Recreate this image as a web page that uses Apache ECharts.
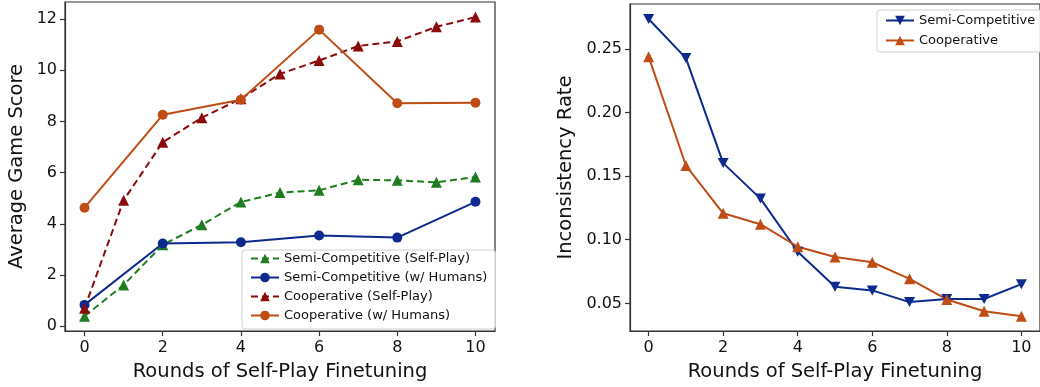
<!DOCTYPE html>
<html>
<head>
<meta charset="utf-8">
<script src="https://cdn.jsdelivr.net/npm/echarts@6/dist/echarts.min.js"></script>
<style>html,body{margin:0;padding:0;background:#fff}#c{width:1040px;height:387px}</style>
</head>
<body>
<div id="c"></div>
<script>
// ---- data ----
const rounds = [0,1,2,3,4,5,6,7,8,9,10];
const humanRounds = [0,2,4,6,8,10];
const semiSelfPlay = [0.39,1.61,3.18,3.96,4.85,5.22,5.31,5.72,5.70,5.62,5.83];
const semiHumans = [0.83,3.23,3.28,3.54,3.46,4.86];
const coopSelfPlay = [0.70,4.92,7.19,8.15,8.89,9.86,10.38,10.95,11.13,11.70,12.08];
const coopHumans = [4.63,8.26,8.85,11.59,8.71,8.73];
const semiInconsistency = [0.2734,0.2427,0.1602,0.1323,0.0906,0.0630,0.0602,0.0510,0.0534,0.0534,0.0651];
const coopInconsistency = [0.2438,0.1583,0.1208,0.1122,0.0945,0.0865,0.0823,0.0693,0.0531,0.0438,0.0398];
const xTicks = [0,2,4,6,8,10];
const scoreTicks = [0,2,4,6,8,10,12];
const rateTicks = [0.05,0.10,0.15,0.20,0.25];

const GREEN='#1f7d1f', BLUE='#0c2a8e', DARKRED='#8b0a0a', ORANGE='#bf4c14';
const FONT='DejaVu Sans';
const downTri='path://M0,0 L10,0 L5,9 Z';

function pairs(xs, ys){ return xs.map((x,i)=>[x,ys[i]]); }

const axisCommon = {
  axisLine:{show:true,onZero:false,lineStyle:{color:'#333',width:1.2}},
  axisTick:{show:true,inside:false,length:5,lineStyle:{color:'#333',width:1.2}},
  splitLine:{show:false},
  axisLabel:{color:'#111',fontFamily:FONT,fontSize:16},
  nameTextStyle:{color:'#111',fontFamily:FONT,fontSize:19.5},
  nameLocation:'middle'
};
function xAx(gi){
  return Object.assign({}, axisCommon, {
    gridIndex:gi,type:'value',min:-0.5,max:10.5,
    name:'Rounds of Self-Play Finetuning',nameGap:31,
    axisTick:Object.assign({},axisCommon.axisTick,{customValues:xTicks}),
    axisLabel:Object.assign({},axisCommon.axisLabel,{customValues:xTicks,margin:9})
  });
}

const option = {
  animation:false,
  grid:[
    {left:65,top:2,width:430,height:330,show:true,borderColor:'#333',borderWidth:1.2,containLabel:false},
    {left:630,top:4,width:414,height:329,show:true,borderColor:'#333',borderWidth:1.2,containLabel:false}
  ],
  xAxis:[xAx(0),xAx(1)],
  yAxis:[
    Object.assign({},axisCommon,{
      gridIndex:0,type:'value',min:-0.19,max:12.67,
      name:'Average Game Score',nameGap:38,
      axisTick:Object.assign({},axisCommon.axisTick,{customValues:scoreTicks}),
      axisLabel:Object.assign({},axisCommon.axisLabel,{customValues:scoreTicks,margin:8})
    }),
    Object.assign({},axisCommon,{
      gridIndex:1,type:'value',min:0.0283,max:0.2852,
      name:'Inconsistency Rate',nameGap:54,
      axisTick:Object.assign({},axisCommon.axisTick,{customValues:rateTicks}),
      axisLabel:Object.assign({},axisCommon.axisLabel,{customValues:rateTicks,margin:8,
        formatter:v=>v.toFixed(2)})
    })
  ],
  legend:[
    {
      orient:'vertical',left:242,top:250,width:245,
      backgroundColor:'rgba(255,255,255,0.85)',borderColor:'#d0d0d0',borderWidth:1,borderRadius:3,
      padding:[2,8,7,8],itemGap:6,itemWidth:28,itemHeight:12,
      textStyle:{fontFamily:FONT,fontSize:13,color:'#111'},
      data:['Semi-Competitive (Self-Play)','Semi-Competitive (w/ Humans)','Cooperative (Self-Play)','Cooperative (w/ Humans)']
    },
    {
      orient:'vertical',left:877,top:10,
      backgroundColor:'rgba(255,255,255,0.85)',borderColor:'#d0d0d0',borderWidth:1,borderRadius:3,
      padding:[4,8,5,8],itemGap:7,itemWidth:28,itemHeight:12,
      textStyle:{fontFamily:FONT,fontSize:13,color:'#111'},
      data:['Semi-Competitive','Cooperative']
    }
  ],
  series:[
    {name:'Semi-Competitive (Self-Play)',type:'line',xAxisIndex:0,yAxisIndex:0,
     data:pairs(rounds,semiSelfPlay),symbol:'triangle',symbolSize:11,
     color:GREEN,lineStyle:{width:2,type:[7,4],color:GREEN},itemStyle:{color:GREEN}},
    {name:'Semi-Competitive (w/ Humans)',type:'line',xAxisIndex:0,yAxisIndex:0,
     data:pairs(humanRounds,semiHumans),symbol:'circle',symbolSize:10,
     color:BLUE,lineStyle:{width:2,color:BLUE},itemStyle:{color:BLUE}},
    {name:'Cooperative (Self-Play)',type:'line',xAxisIndex:0,yAxisIndex:0,
     data:pairs(rounds,coopSelfPlay),symbol:'triangle',symbolSize:11,
     color:DARKRED,lineStyle:{width:2,type:[7,4],color:DARKRED},itemStyle:{color:DARKRED}},
    {name:'Cooperative (w/ Humans)',type:'line',xAxisIndex:0,yAxisIndex:0,
     data:pairs(humanRounds,coopHumans),symbol:'circle',symbolSize:10,
     color:ORANGE,lineStyle:{width:2,color:ORANGE},itemStyle:{color:ORANGE}},
    {name:'Semi-Competitive',type:'line',xAxisIndex:1,yAxisIndex:1,
     data:pairs(rounds,semiInconsistency),symbol:downTri,symbolSize:[11,10],
     color:BLUE,lineStyle:{width:2,color:BLUE},itemStyle:{color:BLUE}},
    {name:'Cooperative',type:'line',xAxisIndex:1,yAxisIndex:1,
     data:pairs(rounds,coopInconsistency),symbol:'triangle',symbolSize:11,
     color:ORANGE,lineStyle:{width:2,color:ORANGE},itemStyle:{color:ORANGE}}
  ]
};
const chart = echarts.init(document.getElementById('c'),null,{renderer:'canvas'});
chart.setOption(option);
</script>
</body>
</html>
